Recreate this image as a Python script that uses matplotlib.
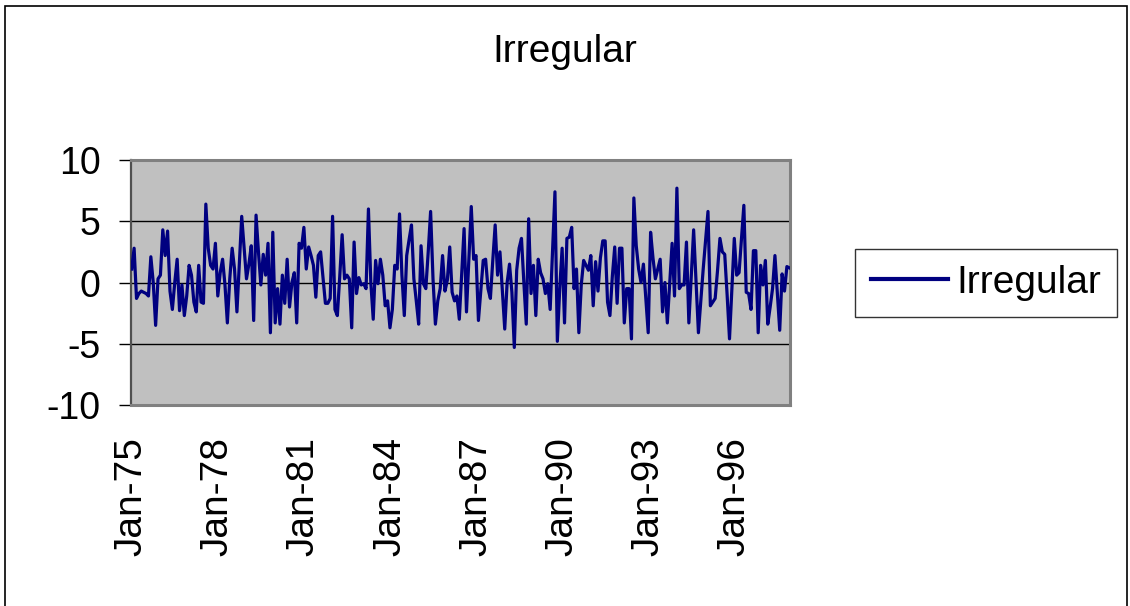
import matplotlib
matplotlib.use("Agg")
import matplotlib.pyplot as plt
import numpy as np
from matplotlib.patches import Rectangle

# Monthly irregular component, Jan-1975 .. Dec-1997 (276 months)
irregular = [
    1.1, 2.8, -1.3, -0.9, -0.7, -0.8, -0.9, -1.1, 2.1, 0.0, -3.5, 0.3,
    0.6, 4.3, 2.2, 4.2, -0.7, -2.2, 0.0, 1.9, -2.3, -0.2, -2.7, -1.1,
    1.4, 0.6, -1.6, -2.4, 1.4, -1.6, -1.7, 6.4, 2.8, 1.4, 1.1, 3.2,
    -1.1, 0.8, 1.9, -0.2, -3.3, 0.3, 2.8, 1.1, -2.4, 1.5, 5.4, 2.8,
    0.3, 1.5, 3.0, -3.1, 5.5, 2.5, -0.2, 2.3, 0.6, 3.2, -4.1, 4.1,
    -3.3, -0.5, -3.4, 0.6, -1.7, 1.9, -2.0, 0.0, 0.8, -3.3, 3.2, 2.8,
    4.5, 1.1, 2.9, 2.2, 1.4, -1.2, 2.2, 2.5, 0.4, -1.7, -1.7, -1.3,
    5.4, -2.2, -2.7, 0.5, 3.9, 0.3, 0.6, 0.3, -3.7, 3.3, -0.9, 0.4,
    -0.2, -0.1, -0.5, 6.0, 0.0, -3.0, 1.8, -0.1, 1.9, 0.6, -1.9, -1.5,
    -3.7, -2.2, 1.4, 1.1, 5.6, 0.6, -2.7, 2.2, 3.5, 4.7, 0.3, -1.5,
    -3.4, 3.0, -0.1, -0.5, 2.5, 5.8, 0.3, -3.4, -1.5, -0.5, 2.2, -0.7,
    0.2, 2.9, -0.8, -1.5, -1.1, -3.0, 0.7, 4.4, -2.4, 2.0, 6.2, 1.9,
    2.2, -3.1, -0.6, 1.8, 1.9, -0.5, -1.3, 1.8, 4.7, 0.6, 2.5, -0.6,
    -3.8, 0.0, 1.5, -0.8, -5.3, 1.0, 2.8, 3.6, 0.0, -3.4, 5.2, -0.9,
    1.4, -2.7, 1.9, 0.8, 0.3, -0.9, -0.1, -2.2, 2.5, 7.4, -4.8, -0.5,
    2.8, -3.3, 3.6, 3.7, 4.5, -0.5, 1.1, -4.1, -0.2, 1.8, 1.4, 1.0,
    2.2, -1.9, 1.7, -0.7, 2.0, 3.4, 3.4, -1.6, -2.7, 0.5, 2.9, -1.7,
    2.8, 2.8, -3.3, -0.5, -0.5, -4.6, 6.9, 3.0, 1.1, 0.0, 1.5, -1.3,
    -4.1, 4.1, 2.0, 0.3, 1.1, 1.9, -2.4, 0.0, -3.3, 0.0, 3.2, -1.1,
    7.7, -0.5, -0.2, -0.2, 3.3, -3.3, 0.5, 4.3, 0.0, -4.1, -1.5, 1.1,
    3.4, 5.8, -1.9, -1.6, -1.3, 1.0, 3.6, 2.5, 2.3, -1.0, -4.6, -0.5,
    3.6, 0.6, 0.8, 3.5, 6.3, -0.8, -0.9, -2.2, 2.6, 2.6, -4.1, 1.4,
    -0.2, 1.8, -3.4, -2.0, -0.5, 2.2, -0.8, -3.9, 0.7, -0.7, 1.3, 1.2,
]
tick_labels = ["Jan-75", "Jan-78", "Jan-81", "Jan-84", "Jan-87", "Jan-90", "Jan-93", "Jan-96"]
tick_months = [0, 36, 72, 108, 144, 180, 216, 252]
y_ticks = [-10, -5, 0, 5, 10]

plt.rcParams['font.family'] = ['Liberation Sans', 'DejaVu Sans']

W, H = 1130, 606
fig = plt.figure(figsize=(W / 100, H / 100), dpi=100)
fig.patch.set_facecolor('white')

# outer chart border
fig.add_artist(Rectangle((5 / W, -0.01), (1127 - 5) / W, (H - 6) / H + 0.01, transform=fig.transFigure,
                         fill=False, edgecolor='black', linewidth=1.2))

left, right, top, bottom = 131, 790, 160, 405
ax = fig.add_axes([left / W, 1 - bottom / H, (right - left) / W, (bottom - top) / H])
ax.set_facecolor('#C0C0C0')

x = np.arange(len(irregular))
ax.plot(x, irregular, color='#000080', linewidth=2.3, label='Irregular', zorder=3)

ax.set_ylim(-10, 10)
ax.set_xlim(-0.3, len(irregular) - 0.7)
ax.set_yticks(y_ticks)
ax.set_yticklabels([str(v) for v in y_ticks])
ax.set_xticks(tick_months)
ax.set_xticklabels(tick_labels, rotation=90, va='top')

ax.yaxis.grid(True, color='black', linewidth=1.0)
ax.set_axisbelow(True)

for side in ['top', 'right', 'bottom']:
    ax.spines[side].set_color('#808080')
    ax.spines[side].set_linewidth(2.2)
ax.spines['left'].set_color('#505050')
ax.spines['left'].set_linewidth(1.6)

ax.tick_params(axis='y', length=9, width=1.0, color='black', labelsize=27, pad=13)
ax.tick_params(axis='x', length=0, labelsize=28, pad=23)

fig.text(0.5, 1 - 52 / H, 'Irregular', ha='center', va='center', fontsize=28)

leg = ax.legend(loc='center left', bbox_to_anchor=(855 / W, 1 - 283 / H),
                bbox_transform=fig.transFigure, fontsize=28, frameon=True, fancybox=False,
                handlelength=2.0, handletextpad=0.2, borderpad=0.4, borderaxespad=0)
leg.get_frame().set_edgecolor('black')
leg.get_frame().set_linewidth(1.0)
for line in leg.get_lines():
    line.set_linewidth(3.0)

fig.savefig('out.png', dpi=100, facecolor='white')
